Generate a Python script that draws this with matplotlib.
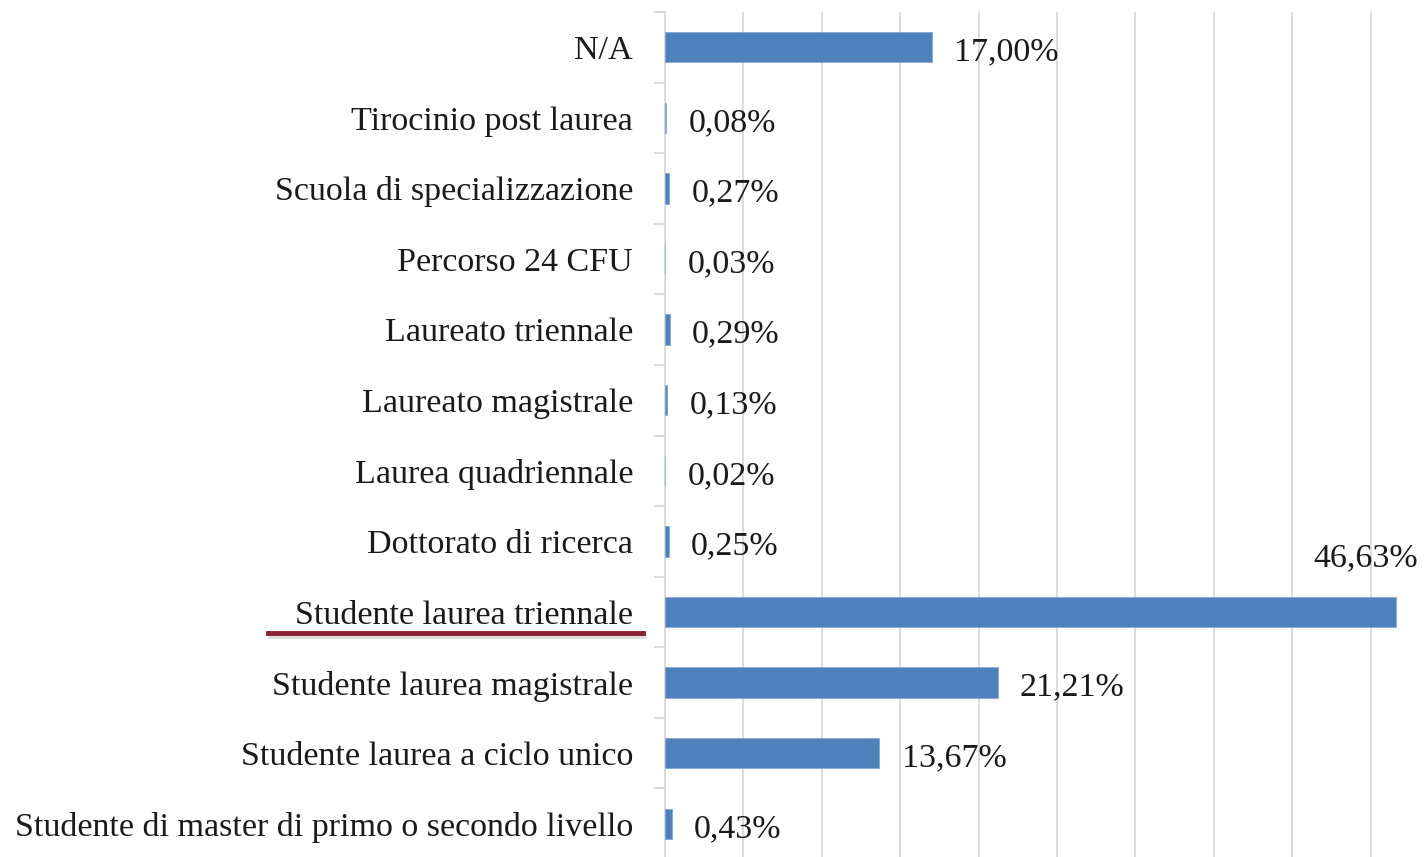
import numpy as np
import matplotlib
matplotlib.use('Agg')
from matplotlib import pyplot as plt
from matplotlib.lines import Line2D

categorie = ['Studente di master di primo o secondo livello',
             'Studente laurea a ciclo unico',
             'Studente laurea magistrale',
             'Studente laurea triennale',
             'Dottorato di ricerca',
             'Laurea quadriennale',
             'Laureato magistrale',
             'Laureato triennale',
             'Percorso 24 CFU',
             'Scuola di specializzazione',
             'Tirocinio post laurea',
             'N/A']
percentuali = [0.43, 13.67, 21.21, 46.63, 0.25, 0.02, 0.13, 0.29, 0.03, 0.27, 0.08, 17.00]

plt.rcParams['font.family'] = ['Liberation Serif', 'DejaVu Serif']

W, H = 1427, 857
fig = plt.figure(figsize=(W / 100, H / 100), dpi=100)
ax = fig.add_axes([665 / W, -2 / H, 1 - 665 / W, 847 / H])

y = np.arange(len(categorie))
ax.barh(y, percentuali, height=0.43, color='#4F81BD', edgecolor='#7EA3D0', linewidth=0.5, zorder=3)

ax.set_xlim(0, 48.6)
ax.set_ylim(-0.5, len(categorie) - 0.5)
ax.set_xticks(np.arange(0, 50, 5))
ax.xaxis.grid(True, color='#D9D9D9', linewidth=1.3, zorder=0)
ax.tick_params(axis='x', length=0, labelbottom=False)

ax.set_yticks(y)
ax.set_yticklabels(categorie, fontsize=24.5, color='#1a1a1a')
ax.set_yticks(np.arange(-0.5, len(categorie), 1), minor=True)
ax.tick_params(axis='y', which='major', length=0, pad=23)
ax.tick_params(axis='y', which='minor', length=8, color='#D9D9D9', width=1.3)

for s in ['top', 'right', 'bottom']:
    ax.spines[s].set_visible(False)
ax.spines['left'].set_color('#D9D9D9')
ax.spines['left'].set_linewidth(1.3)

for yi, v in zip(y, percentuali):
    testo = f'{v:.2f}%'.replace('.', ',')
    if v > 40:
        ax.annotate(testo, (v, yi), xytext=(-22, 41), textcoords='offset points',
                    ha='center', va='center_baseline', fontsize=24.5, color='#1a1a1a')
    else:
        ax.annotate(testo, (v, yi), xytext=(16, -1), textcoords='offset points',
                    ha='left', va='center_baseline', fontsize=24.5, color='#1a1a1a')

# sottolineatura sotto "Studente laurea triennale"
fig.add_artist(Line2D([270 / W, 644 / W], [1 - 636 / H, 1 - 636 / H], color='#bbbbbb',
                      linewidth=3.5, alpha=0.5))
fig.add_artist(Line2D([268 / W, 643 / W], [1 - 633 / H, 1 - 633 / H], color='#8B2335',
                      linewidth=3.5))

fig.savefig('out.png', dpi=100)
